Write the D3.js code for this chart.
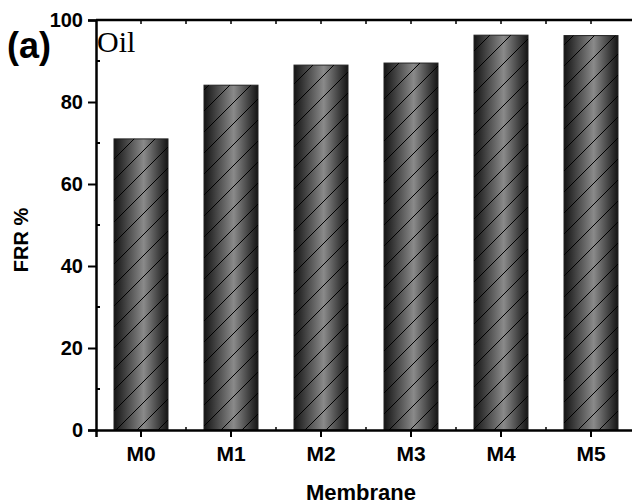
<!DOCTYPE html>
<html>
<head>
<meta charset="utf-8">
<script src="https://cdn.jsdelivr.net/npm/d3@7"></script>
<style>
  body { margin: 0; background: #fff; }
  text { font-family: Arial, "Liberation Sans", sans-serif; font-weight: bold; fill: #000; }
</style>
</head>
<body>
<script>
// data
var membranes = ["M0", "M1", "M2", "M3", "M4", "M5"];
var frr = [71.0, 84.1, 89.0, 89.5, 96.3, 96.2];
var yTicks = [0, 20, 40, 60, 80, 100];

var width = 632, height = 504;
var margin = {top: 20, right: -4, bottom: 74, left: 96};

var svg = d3.select("body").append("svg")
    .attr("width", width)
    .attr("height", height);

var defs = svg.append("defs");

// dark-edge / light-middle shading of the bars
var grad = defs.append("linearGradient")
    .attr("id", "barShade")
    .attr("x1", "0%").attr("x2", "100%")
    .attr("y1", "0%").attr("y2", "0%");
grad.append("stop").attr("offset", "0%").attr("stop-color", "#141414");
grad.append("stop").attr("offset", "55%").attr("stop-color", "#8a8a8a");
grad.append("stop").attr("offset", "100%").attr("stop-color", "#141414");

// diagonal hatch
var hatch = defs.append("pattern")
    .attr("id", "hatch")
    .attr("patternUnits", "userSpaceOnUse")
    .attr("width", 21).attr("height", 21);
hatch.append("path")
    .attr("d", "M-2,2 L2,-2 M0,21 L21,0 M19,23 L23,19")
    .attr("stroke", "#000")
    .attr("stroke-width", 1);

var x = d3.scaleBand()
    .domain(membranes)
    .range([margin.left, width - margin.right])
    .paddingInner(0.4)
    .paddingOuter(0.2);

var y = d3.scaleLinear()
    .domain([0, 100])
    .range([height - margin.bottom, margin.top]);

// bars
var bars = svg.append("g").selectAll("g")
    .data(membranes)
  .enter().append("g");

bars.append("rect")
    .attr("x", function(d) { return x(d); })
    .attr("y", function(d, i) { return y(frr[i]); })
    .attr("width", x.bandwidth())
    .attr("height", function(d, i) { return y(0) - y(frr[i]); })
    .attr("fill", "url(#barShade)")
    .attr("stroke", "#222")
    .attr("stroke-width", 1);

bars.append("rect")
    .attr("x", function(d) { return x(d); })
    .attr("y", function(d, i) { return y(frr[i]); })
    .attr("width", x.bandwidth())
    .attr("height", function(d, i) { return y(0) - y(frr[i]); })
    .attr("fill", "url(#hatch)");

// left axis
var yAxis = svg.append("g")
    .attr("transform", "translate(" + margin.left + ",0)")
    .call(d3.axisLeft(y).tickValues(yTicks).tickSize(8).tickPadding(5));
yAxis.selectAll("text").style("font-size", "20px");

// minor inward ticks on the left axis
svg.append("g").selectAll("line")
    .data([10, 30, 50, 70, 90])
  .enter().append("line")
    .attr("x1", margin.left).attr("x2", margin.left + 4)
    .attr("y1", function(d) { return y(d); })
    .attr("y2", function(d) { return y(d); })
    .attr("stroke", "#000").attr("stroke-width", 2);

// bottom axis
var xAxis = svg.append("g")
    .attr("transform", "translate(0," + y(0) + ")")
    .call(d3.axisBottom(x).tickSize(7).tickPadding(9));
xAxis.selectAll("text").style("font-size", "21px");

// top axis, ticks inward at centres and band edges
var topTicks = [];
membranes.forEach(function(m) {
  topTicks.push(x(m) + x.bandwidth() / 2);
  topTicks.push(x(m) + x.bandwidth() / 2 + x.step() / 2);
});
svg.append("line")
    .attr("x1", margin.left).attr("x2", width)
    .attr("y1", y(100)).attr("y2", y(100))
    .attr("stroke", "#000").attr("stroke-width", 2.5);
svg.append("g").selectAll("line")
    .data(topTicks)
  .enter().append("line")
    .attr("x1", function(d) { return d; })
    .attr("x2", function(d) { return d; })
    .attr("y1", y(100)).attr("y2", y(100) + 4)
    .attr("stroke", "#000").attr("stroke-width", 1.5);

// inward minor ticks at band edges on bottom axis
svg.append("g").selectAll("line")
    .data(membranes)
  .enter().append("line")
    .attr("x1", function(d) { return x(d) + x.bandwidth() / 2 + x.step() / 2; })
    .attr("x2", function(d) { return x(d) + x.bandwidth() / 2 + x.step() / 2; })
    .attr("y1", y(0)).attr("y2", y(0) - 3)
    .attr("stroke", "#000").attr("stroke-width", 1.5);

svg.selectAll(".domain").attr("stroke-width", 2.5);
svg.selectAll(".tick line").attr("stroke-width", 2);

// axis titles
svg.append("text")
    .attr("transform", "translate(28,240) rotate(-90)")
    .attr("text-anchor", "middle")
    .style("font-size", "20px")
    .text("FRR %");

svg.append("text")
    .attr("x", 361)
    .attr("y", 500)
    .attr("text-anchor", "middle")
    .style("font-size", "22px")
    .text("Membrane");

// panel label and note
svg.append("text")
    .attr("x", 7).attr("y", 58)
    .style("font-size", "36px")
    .text("(a)");

svg.append("text")
    .attr("x", 97).attr("y", 52)
    .style("font-family", "'Liberation Serif', 'Times New Roman', serif")
    .style("font-weight", "normal")
    .style("font-size", "30px")
    .text("Oil");
</script>
</body>
</html>
